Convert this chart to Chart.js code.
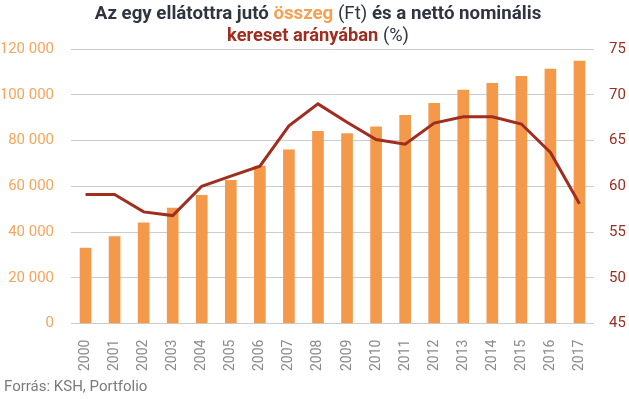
<!DOCTYPE html>
<html>
<head>
<meta charset="utf-8">
<script src="https://cdn.jsdelivr.net/npm/chart.js@4"></script>
<style>
  html, body { margin: 0; padding: 0; background: #fff; }
  #wrap { position: relative; width: 629px; height: 399px; font-family: Roboto, sans-serif; }
  #title { position: absolute; left: 0; top: 3px; width: 636px; text-align: center; font-size: 18.7px; line-height: 21px; font-weight: bold; color: #2f3540; }
  #title .l2 { font-size: 18.3px; }
  #title .n { font-weight: normal; }
  #title .o { color: #f7a04f; }
  #title .r { color: #a02d1f; }
  #source { position: absolute; left: 4px; top: 377px; font-size: 15px; color: #7a7a7a; }
  canvas { position: absolute; left: 0; top: 0; }
</style>
</head>
<body>
<div id="wrap">
  <canvas id="chart" width="629" height="399"></canvas>
  <div id="title">Az egy ellátottra jutó <span class="o">összeg</span> <span class="n">(Ft)</span> és a nettó nominális<br><span class="l2"><span class="r">kereset arányában</span> <span class="n">(%)</span></span></div>
  <div id="source">Forrás: KSH, Portfolio</div>
</div>
<script>
var years = ['2000', '2001', '2002', '2003', '2004', '2005', '2006', '2007', '2008',
    '2009', '2010', '2011', '2012', '2013', '2014', '2015', '2016', '2017'];
var amounts = [33000, 38000, 44000, 50500, 56000, 62600, 68800, 75900, 84000,
    83000, 86000, 91000, 96200, 102000, 105000, 108000, 111200, 114700];
var ratios = [59.1, 59.1, 57.2, 56.8, 60.0, 61.1, 62.2, 66.6, 69.0,
    67.0, 65.1, 64.6, 66.9, 67.6, 67.6, 66.8, 63.7, 58.1];

function fmtThousands(v) {
    return String(v).replace(/\B(?=(\d{3})+(?!\d))/g, ' ');
}

new Chart(document.getElementById('chart'), {
    data: {
        labels: years,
        datasets: [
            { type: 'line', data: ratios, yAxisID: 'y2', borderColor: '#a02d1f', borderWidth: 3,
              pointRadius: 0, tension: 0, order: 0 },
            { type: 'bar', data: amounts, yAxisID: 'y', backgroundColor: '#f4994a',
              barThickness: 11, order: 1 }
        ]
    },
    options: {
        responsive: false,
        animation: false,
        layout: { padding: { top: 49, right: 4, bottom: 20, left: 2 } },
        plugins: { legend: { display: false }, tooltip: { enabled: false } },
        scales: {
            x: {
                grid: { display: false },
                border: { display: false },
                ticks: { minRotation: 90, maxRotation: 90, color: '#8a8a8a', font: { family: 'Roboto', size: 14 }, padding: 8 }
            },
            y: {
                position: 'left', min: 0, max: 120000,
                afterFit: function(scale) { scale.width = 69; },
                ticks: { stepSize: 20000, color: '#f7a55c', font: { family: 'Roboto', size: 15 }, padding: 17,
                         callback: function(v) { return fmtThousands(v); } },
                grid: { color: '#cccccc', drawTicks: false },
                border: { display: false }
            },
            y2: {
                position: 'right', min: 45, max: 75,
                afterFit: function(scale) { scale.width = 31; },
                ticks: { stepSize: 5, color: '#9b2d20', font: { family: 'Roboto', size: 15 }, padding: 15 },
                grid: { display: false, drawTicks: false },
                border: { display: false }
            }
        }
    }
});
</script>
</body>
</html>
